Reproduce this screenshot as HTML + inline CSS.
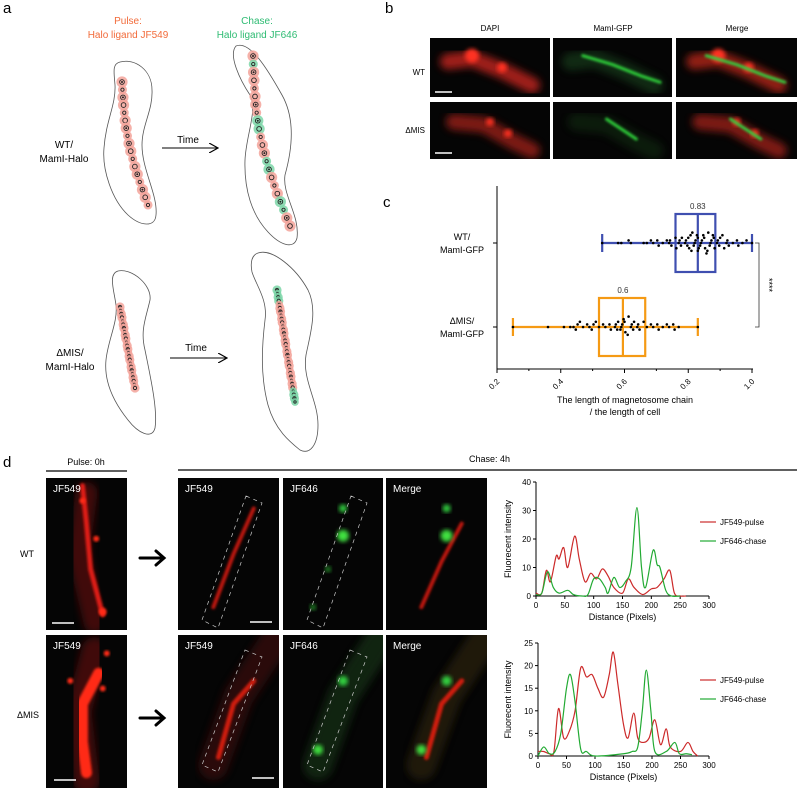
<!DOCTYPE html>
<html><head><meta charset="utf-8"><style>
body{margin:0;background:#fff;width:797px;height:788px;overflow:hidden}
svg{display:block;font-family:"Liberation Sans",Arial,sans-serif}
</style></head><body>
<svg id="fig" width="797" height="788" viewBox="0 0 797 788" xmlns="http://www.w3.org/2000/svg">
<defs>
<filter id="b2" x="-20%" y="-20%" width="140%" height="140%"><feGaussianBlur stdDeviation="2"/></filter>
<filter id="b1" x="-20%" y="-20%" width="140%" height="140%"><feGaussianBlur stdDeviation="1.2"/></filter>
<filter id="b4" x="-30%" y="-30%" width="160%" height="160%"><feGaussianBlur stdDeviation="4"/></filter>
<marker id="ah" markerWidth="10" markerHeight="10" refX="9" refY="5" orient="auto"><path d="M0,0 L9,5 L0,10" fill="none" stroke="#000" stroke-width="1.2"/></marker>
</defs>

<g font-size="15" fill="#000">
<text x="3" y="13">a</text>
<text x="385" y="13">b</text>
<text x="383" y="207">c</text>
<text x="3" y="467">d</text>
</g>

<g id="panelA" font-size="10">
<text x="128" y="24" fill="#f26b3a" text-anchor="middle">Pulse:</text>
<text x="128" y="38" fill="#f26b3a" text-anchor="middle">Halo ligand JF549</text>
<text x="257" y="24" fill="#2dbb72" text-anchor="middle">Chase:</text>
<text x="257" y="38" fill="#2dbb72" text-anchor="middle">Halo ligand JF646</text>
<text x="64" y="148" text-anchor="middle">WT/</text>
<text x="64" y="162" text-anchor="middle">MamI-Halo</text>
<text x="70" y="356" text-anchor="middle">ΔMIS/</text>
<text x="70" y="370" text-anchor="middle">MamI-Halo</text>
<text x="188" y="143" text-anchor="middle">Time</text>
<line x1="162" y1="148" x2="218" y2="148" stroke="#000" stroke-width="1" marker-end="url(#ah)"/>
<text x="196" y="351" text-anchor="middle">Time</text>
<line x1="170" y1="358" x2="227" y2="358" stroke="#000" stroke-width="1" marker-end="url(#ah)"/>
<g fill="none" stroke="#555" stroke-width="0.8">
<path d="M120,62 C135,58 152,70 152,90 C153,110 142,125 142,145 C142,170 158,195 156,215 C155,228 140,226 128,215 C112,200 102,170 104,148 C106,120 116,105 115,85 C114,72 112,64 120,62 Z"/>
<path d="M236,46 C250,40 268,70 282,95 C296,120 292,150 285,175 C282,195 300,215 297,238 C294,250 280,245 268,232 C252,215 244,190 245,160 C246,135 258,110 250,95 C240,80 228,55 236,46 Z"/>
<path d="M118,271 C132,268 152,285 150,300 C146,318 140,330 145,350 C150,375 158,410 155,428 C152,440 138,433 128,420 C112,400 104,380 106,360 C108,340 118,322 116,305 C114,290 108,274 118,271 Z"/>
<path d="M258,253 C272,248 296,268 308,290 C318,310 310,335 306,355 C302,380 318,400 318,425 C318,445 310,455 300,450 C290,442 275,430 268,405 C260,375 262,345 265,320 C268,300 256,285 252,272 C250,262 252,255 258,253 Z"/>
</g>
<g id="dotsA"></g>
</g>

<g id="panelB" font-size="8">
<text x="490" y="31" text-anchor="middle">DAPI</text>
<text x="613" y="31" text-anchor="middle">MamI-GFP</text>
<text x="737" y="31" text-anchor="middle">Merge</text>
<text x="425" y="75" text-anchor="end">WT</text>
<text x="425" y="133" text-anchor="end">ΔMIS</text>
<g id="bImgs"></g>
</g>

<g id="panelC"></g>

<g id="panelD" font-size="9">
<text x="86" y="465" text-anchor="middle">Pulse: 0h</text>
<line x1="46" y1="471" x2="127" y2="471" stroke="#000" stroke-width="1.2"/>
<text x="510" y="462" text-anchor="end">Chase: 4h</text>
<line x1="178" y1="470" x2="797" y2="470" stroke="#000" stroke-width="1.2"/>
<text x="27" y="557" text-anchor="middle">WT</text>
<text x="28" y="718" text-anchor="middle">ΔMIS</text>
<g id="dImgs"></g>
<g stroke="#000" stroke-width="3" fill="none" stroke-linecap="round"><line x1="140" y1="558" x2="163" y2="558"/><path d="M156,551 L164,558 L156,565"/></g>
<g stroke="#000" stroke-width="3" fill="none" stroke-linecap="round"><line x1="140" y1="718" x2="163" y2="718"/><path d="M156,711 L164,718 L156,725"/></g>
</g>

<g id="lineCharts"></g>
</svg>

<script>
// ===== Panel c data =====
const groupNames = ["WT/MamI-GFP", "ΔMIS/MamI-GFP"];
const wtStats = [0.53, 0.76, 0.83, 0.885, 1.0];
const misStats = [0.25, 0.52, 0.595, 0.665, 0.83];
const medianLabels = ["0.83", "0.6"];
const cTicks = [0.2, 0.4, 0.6, 0.8, 1.0];
const wtDots = [0.53,0.58,0.59,0.61,0.62,0.66,0.67,0.68,0.69,0.70,0.71,0.72,0.73,0.74,0.74,0.75,0.76,0.76,0.77,0.77,0.78,0.78,0.79,0.79,0.80,0.80,0.80,0.81,0.81,0.81,0.82,0.82,0.82,0.83,0.83,0.83,0.83,0.84,0.84,0.84,0.85,0.85,0.85,0.86,0.86,0.86,0.87,0.87,0.87,0.88,0.88,0.88,0.89,0.89,0.90,0.90,0.91,0.91,0.92,0.92,0.93,0.94,0.95,0.96,0.97,0.98,1.0];
const misDots = [0.25,0.36,0.41,0.43,0.44,0.45,0.45,0.46,0.47,0.48,0.49,0.50,0.50,0.51,0.52,0.53,0.54,0.55,0.56,0.57,0.57,0.58,0.58,0.59,0.59,0.59,0.60,0.60,0.60,0.61,0.61,0.62,0.62,0.63,0.63,0.64,0.64,0.65,0.66,0.67,0.68,0.69,0.70,0.71,0.72,0.73,0.74,0.75,0.76,0.77,0.83];

// ===== Panel d line charts data =====
const wtRedX = [0,10,18,25,35,40,48,55,67,75,85,95,105,115,125,135,150,160,170,185,200,210,222,232,240,250,260];
const wtRedY = [1,1,9,5,14,13,17,10,21,13,5,8,6,9.5,7,3,1,6,3,0.5,2.5,3,6,9,1,0,0];
const wtGreenX = [0,10,20,30,40,55,65,80,90,100,110,120,125,135,145,155,165,175,183,190,203,210,215,225,235,250];
const wtGreenY = [0.5,1,8.5,3,1,2,0.5,0,0.5,6,6,3,1,6.5,3,5,10,31,10,3,16,11,10,2,0,0];
const misRedX = [0,10,20,28,36,45,55,65,75,85,95,105,115,125,132,140,150,158,168,175,185,195,205,215,225,232,250,263,272,280];
const misRedY = [1,1,0.5,1,10.5,4,5.5,10,19.5,17.5,18,15,13,18,23,16,7,4,9.5,4,3,4,8,2.5,6,2,1,3,1,0];
const misGreenX = [0,10,20,30,40,50,57,65,75,85,100,150,165,175,183,190,198,205,225,240,248,260,270];
const misGreenY = [0,2,0.5,1,5,15,18,12,1.5,1,0,0.5,1,2,10,19,10,1,1,3,0.5,0.5,0.3];
const distTicks = [0,50,100,150,200,250,300];
const wtYTicks = [0,10,20,30,40];
const misYTicks = [0,5,10,15,20,25];
const seriesNames = ["JF549-pulse","JF646-chase"];

const NS = "http://www.w3.org/2000/svg";
function mk(tag, attrs, parent, text){
  const e = document.createElementNS(NS, tag);
  for (const k in attrs) e.setAttribute(k, attrs[k]);
  if (text !== undefined) e.textContent = text;
  parent.appendChild(e);
  return e;
}

(function(){
  const g = document.getElementById('dotsA');
  function chain(x0,y0,x1,y1,n,colors,bend,rs){
    for(let i=0;i<n;i++){
      const t=i/(n-1);
      const x=x0+(x1-x0)*t+bend*Math.sin(Math.PI*t);
      const y=y0+(y1-y0)*t;
      const col = colors(i,n);
      const big = (i%3!==1);
      const r = big?rs:rs*0.7;
      const h = mk('circle',{cx:x,cy:y,r:r+2,fill:col,opacity:0.85},g);
      
      
      const c = mk('circle',{cx:x,cy:y,r:r*0.65,fill:'none',stroke:'#222','stroke-width':0.9},g);
      
      
      if (big && i%2===0) mk('circle',{cx:x,cy:y,r:1,fill:'#222'},g);
    }
  }
  const red='#f3a39a', grn='#7dd6a8';
  chain(122,82,148,205,17,()=>red,-6,3.6);
  chain(253,56,290,226,22,(i)=>([1,8,9,13,14,18,19].includes(i)?grn:red),-10,3.6);
  chain(120,307,135,388,24,()=>red,0,2.6);
  chain(277,290,295,402,32,(i)=>(i<4||i>27?grn:red),0,2.6);
})();

function micro(parent, x, y, w, h, name, strokes, label){
  const g = mk('g',{},parent);
  
  
  const cid = 'clip'+name;
  const cp = mk('clipPath',{id:cid},g);
  mk('rect',{x:x,y:y,width:w,height:h},cp);
  mk('rect',{x:x,y:y,width:w,height:h,fill:'#050505'},g);
  const inner = mk('g',{'clip-path':'url(#'+cid+')'},g);
  strokes.forEach(s=>{
    if (s.c) mk('circle',{cx:x+s.c[0]*w,cy:y+s.c[1]*h,r:s.r,fill:s.col,filter:'url(#'+(s.f||'b2')+')',opacity:s.o||1},inner);
    else {
      let d='';
      s.p.forEach((pt,i)=>{d+=(i?'L':'M')+(x+pt[0]*w)+','+(y+pt[1]*h)+' ';});
      mk('path',{d:d,fill:'none',stroke:s.col,'stroke-width':s.w,'stroke-linecap':'round','stroke-linejoin':'round',filter:'url(#'+(s.f||'b2')+')',opacity:s.o||1},inner);
    }
  });
  if (label) mk('text',{x:x+7,y:y+14,fill:'#fff','font-size':10},g,label);
  return g;
}

(function(){
  const g = document.getElementById('bImgs');
  const cellB1=[[0.15,0.4],[0.35,0.35],[0.6,0.55],[0.85,0.8]];
  const chainB1=[[0.25,0.3],[0.5,0.45],[0.75,0.65],[0.9,0.75]];
  const cellB2=[[0.2,0.35],[0.45,0.4],[0.7,0.7],[0.85,0.85]];
  const chainB2=[[0.45,0.3],[0.7,0.65]];
  micro(g,430,38,120,59,'b-wt-dapi',[{p:cellB1,col:'#b0201a',w:16,f:'b4',o:0.9},{c:[0.35,0.3],r:7,col:'#ff3020'},{c:[0.6,0.5],r:5,col:'#ff3020'}]);
  micro(g,553,38,119,59,'b-wt-gfp',[{p:cellB1,col:'#1a5020',w:18,f:'b4',o:0.5},{p:chainB1,col:'#2fd03a',w:3,f:'b1'}]);
  micro(g,676,38,121,59,'b-wt-merge',[{p:cellB1,col:'#a02018',w:16,f:'b4',o:0.9},{c:[0.35,0.3],r:7,col:'#ff3020'},{c:[0.6,0.5],r:5,col:'#ff3020'},{p:chainB1,col:'#30d040',w:3,f:'b1'}]);
  micro(g,430,102,120,57,'b-mis-dapi',[{p:cellB2,col:'#8a1a14',w:16,f:'b4',o:0.9},{c:[0.5,0.35],r:4,col:'#ff3020'},{c:[0.65,0.55],r:4,col:'#ff3020'}]);
  micro(g,553,102,119,57,'b-mis-gfp',[{p:cellB2,col:'#143c18',w:18,f:'b4',o:0.4},{p:chainB2,col:'#2fd03a',w:3,f:'b1'}]);
  micro(g,676,102,121,57,'b-mis-merge',[{p:cellB2,col:'#8a1a14',w:16,f:'b4',o:0.9},{c:[0.5,0.35],r:4,col:'#ff3020'},{c:[0.65,0.55],r:4,col:'#ff3020'},{p:chainB2,col:'#30d040',w:3,f:'b1'}]);
  mk('line',{x1:435,y1:92,x2:452,y2:92,stroke:'#fff','stroke-width':1.5},g);
  mk('line',{x1:435,y1:153,x2:452,y2:153,stroke:'#fff','stroke-width':1.5},g);
})();

(function(){
  const g = document.getElementById('dImgs');
  const pw=[[0.45,0.05],[0.5,0.3],[0.55,0.6],[0.7,0.9]];
  const pm=[[0.65,0.25],[0.45,0.45],[0.45,0.7],[0.5,0.9]];
  const cm=[[0.95,0.05],[0.6,0.4],[0.35,0.85]];
  micro(g,46,478,81,152,'d-wt-pulse',[{p:[[0.5,0.1],[0.4,0.5],[0.6,0.95]],col:'#5a0c0c',w:22,f:'b4',o:0.7},{p:pw,col:'#e01a12',w:5,f:'b1'},{c:[0.45,0.15],r:3,col:'#ff2a18',f:'b1'},{c:[0.62,0.4],r:3,col:'#ff2a18',f:'b1'},{c:[0.7,0.88],r:4,col:'#ff2a18',f:'b1'}],'JF549');
  micro(g,46,635,81,153,'d-mis-pulse',[{p:[[0.6,0.1],[0.4,0.5],[0.5,0.95]],col:'#5a0c0c',w:26,f:'b4',o:0.7},{p:pm,col:'#ff2a18',w:11,f:'b1'},{c:[0.7,0.35],r:3,col:'#ff2a18',f:'b1'},{c:[0.3,0.3],r:3,col:'#ff2a18',f:'b1'},{c:[0.75,0.12],r:3,col:'#ff2a18',f:'b1'}],'JF549');
  micro(g,178,478,101,152,'d-wt-chase-jf549',[{p:[[0.75,0.2],[0.55,0.5],[0.35,0.85]],col:'#c01810',w:4,f:'b1'}],'JF549');
  micro(g,283,478,100,152,'d-wt-chase-jf646',[{c:[0.6,0.2],r:4,col:'#30d040'},{c:[0.6,0.38],r:6,col:'#40e040'},{c:[0.45,0.6],r:3,col:'#208a28'},{c:[0.3,0.85],r:3,col:'#208a28'}],'JF646');
  micro(g,386,478,101,152,'d-wt-chase-merge',[{p:[[0.75,0.3],[0.55,0.55],[0.35,0.85]],col:'#c01810',w:4,f:'b1'},{c:[0.6,0.2],r:4,col:'#30d040'},{c:[0.6,0.38],r:6,col:'#40e040'}],'Merge');
  micro(g,178,635,101,153,'d-mis-chase-jf549',[{p:cm,col:'#3a1010',w:30,f:'b4',o:0.7},{p:[[0.75,0.3],[0.55,0.45],[0.4,0.8]],col:'#d01a10',w:5,f:'b1'}],'JF549');
  micro(g,283,635,100,153,'d-mis-chase-jf646',[{p:cm,col:'#143018',w:30,f:'b4',o:0.7},{c:[0.6,0.3],r:5,col:'#30d040'},{c:[0.35,0.75],r:5,col:'#40e040'}],'JF646');
  micro(g,386,635,101,153,'d-mis-chase-merge',[{p:cm,col:'#2a2010',w:30,f:'b4',o:0.7},{p:[[0.75,0.3],[0.55,0.45],[0.4,0.8]],col:'#d01a10',w:5,f:'b1'},{c:[0.6,0.3],r:5,col:'#30d040'},{c:[0.35,0.75],r:5,col:'#40e040'}],'Merge');
  mk('polygon',{points:'246,496 262,503 218,628 202,620',fill:'none',stroke:'#ccc','stroke-width':0.7,'stroke-dasharray':'4,4'},g);
  mk('polygon',{points:'351,496 367,503 323,628 307,620',fill:'none',stroke:'#ccc','stroke-width':0.7,'stroke-dasharray':'4,4'},g);
  mk('polygon',{points:'245,650 262,657 218,772 202,765',fill:'none',stroke:'#ccc','stroke-width':0.7,'stroke-dasharray':'4,4'},g);
  mk('polygon',{points:'350,650 367,657 323,772 307,765',fill:'none',stroke:'#ccc','stroke-width':0.7,'stroke-dasharray':'4,4'},g);
  [[52,623],[54,780],[250,622],[252,778]].forEach(p=>mk('line',{x1:p[0],y1:p[1],x2:p[0]+22,y2:p[1],stroke:'#fff','stroke-width':1.5},g));
})();

(function(){
  const g = document.getElementById('panelC');
  const sx = v => 497 + (v-0.2)/0.8*255;
  const rows = [243, 327];
  const stats = [wtStats, misStats];
  const dots = [wtDots, misDots];
  const cols = ['#3f4fb0', '#f59a14'];
  const ax = mk('line',{x1:497,y1:186,x2:497,y2:369,stroke:'#000','stroke-width':1},g);
   
  const xa = mk('line',{x1:497,y1:369,x2:753,y2:369,stroke:'#000','stroke-width':1},g);
   
  cTicks.forEach(t=>{
    mk('line',{x1:sx(t),y1:369,x2:sx(t),y2:373,stroke:'#000'},g);
    const lab = mk('text',{x:sx(t)+3,y:382,'font-size':8,'text-anchor':'end',transform:'rotate(-45 '+(sx(t)+3)+' 382)'},g,t.toFixed(1));
     
  });
  for (let i=0;i<5;i++){ const t=0.3+i*0.2; if(t<1) mk('line',{x1:sx(t),y1:369,x2:sx(t),y2:371,stroke:'#000'},g); }
  const t1 = mk('text',{x:625,y:403,'font-size':9,'text-anchor':'middle'},g,'The length of magnetosome chain');
   
  mk('text',{x:625,y:415,'font-size':9,'text-anchor':'middle'},g,'/ the length of cell');
  const labs = [["WT/","MamI-GFP"],["ΔMIS/","MamI-GFP"]];
  rows.forEach((y,i)=>{
    mk('line',{x1:493,y1:y,x2:497,y2:y,stroke:'#000'},g);
    const l1 = mk('text',{x:462,y:y-3,'font-size':9,'text-anchor':'middle'},g,labs[i][0]);
     
    mk('text',{x:462,y:y+10,'font-size':9,'text-anchor':'middle'},g,labs[i][1]);
    const s = stats[i], c = cols[i];
    const wh = mk('line',{x1:sx(s[0]),y1:y,x2:sx(s[4]),y2:y,stroke:c,'stroke-width':2.2},g);
     
    [s[0],s[4]].forEach(v=>mk('line',{x1:sx(v),y1:y-9,x2:sx(v),y2:y+9,stroke:c,'stroke-width':2.2},g));
    const bx = mk('rect',{x:sx(s[1]),y:y-29,width:sx(s[3])-sx(s[1]),height:58,fill:'none',stroke:c,'stroke-width':2.2},g);
     
    mk('line',{x1:sx(s[2]),y1:y-29,x2:sx(s[2]),y2:y+29,stroke:c,'stroke-width':2.2},g);
    const ml = mk('text',{x:sx(s[2]),y:y-34,'font-size':8,'text-anchor':'middle',fill:'#333'},g,medianLabels[i]);
     
    const cnt = {};
    dots[i].forEach(v=>{
      const k = Math.round(v*40); cnt[k]=(cnt[k]||0)+1;
      const n = cnt[k]; const off = (n%2?1:-1)*Math.floor(n/2)*2.6 + (n%2?0:0);
      const d = mk('circle',{cx:sx(v)+((n%3)-1)*0.9,cy:y+off,r:1.3,fill:'#000'},g);
      
      
    });
  });
  const br = mk('path',{d:'M755,243 H759 V327 H755',fill:'none',stroke:'#333','stroke-width':0.8},g);
   
  mk('text',{x:766,y:285,'font-size':9,'text-anchor':'middle',transform:'rotate(90 766 285)'},g,'****');
})();

function smoothPath(pts){
  let d='M'+pts[0][0]+','+pts[0][1];
  for(let i=0;i<pts.length-1;i++){
    const p0=pts[Math.max(0,i-1)],p1=pts[i],p2=pts[i+1],p3=pts[Math.min(pts.length-1,i+2)];
    const c1=[p1[0]+(p2[0]-p0[0])/6,p1[1]+(p2[1]-p0[1])/6];
    const c2=[p2[0]-(p3[0]-p1[0])/6,p2[1]-(p3[1]-p1[1])/6];
    d+=' C'+c1[0]+','+c1[1]+' '+c2[0]+','+c2[1]+' '+p2[0]+','+p2[1];
  }
  return d;
}
function lineChart(name, x0, x1, y0, y1, ymax, yTicks, series, legY){
  const g = mk('g',{},document.getElementById('lineCharts'));
  
  
  const sx = d => x0 + d/300*(x1-x0);
  const sy = v => y0 - v/ymax*(y0-y1);
  mk('line',{x1:x0,y1:y0,x2:x1,y2:y0,stroke:'#000','stroke-width':1},g);
  mk('line',{x1:x0,y1:y0,x2:x0,y2:y1,stroke:'#000','stroke-width':1},g);
  distTicks.forEach(t=>{
    mk('line',{x1:sx(t),y1:y0,x2:sx(t),y2:y0+3,stroke:'#000'},g);
    const l = mk('text',{x:sx(t),y:y0+12,'font-size':8,'text-anchor':'middle'},g,String(t));
     
  });
  yTicks.forEach(t=>{
    mk('line',{x1:x0-3,y1:sy(t),x2:x0,y2:sy(t),stroke:'#000'},g);
    const l = mk('text',{x:x0-5,y:sy(t)+3,'font-size':8,'text-anchor':'end'},g,String(t));
     
  });
  const xt = mk('text',{x:(x0+x1)/2,y:y0+24,'font-size':9,'text-anchor':'middle'},g,'Distance (Pixels)');
   
  const yc=(y0+y1)/2;
  const yt = mk('text',{x:511,y:yc,'font-size':9,'text-anchor':'middle',transform:'rotate(-90 511 '+yc+')'},g,'Fluorecent intensity');
   
  const cols=['#cc2a2a','#22aa33'];
  series.forEach((s,i)=>{
    const pts = s[0].map((d,j)=>[sx(d), sy(s[1][j])]);
    const p = mk('path',{d:smoothPath(pts),fill:'none',stroke:cols[i],'stroke-width':1.2},g);
    
    
    const le = mk('line',{x1:700,y1:legY+i*19,x2:716,y2:legY+i*19,stroke:cols[i],'stroke-width':1.2},g);
     
    mk('text',{x:720,y:legY+i*19+3,'font-size':8},g,seriesNames[i]);
  });
}
lineChart('wt-profile-chart',536,709,596,482,40,wtYTicks,[[wtRedX,wtRedY],[wtGreenX,wtGreenY]],522);
lineChart('mis-profile-chart',538,709,756,643,25,misYTicks,[[misRedX,misRedY],[misGreenX,misGreenY]],680);
</script>
</body></html>
